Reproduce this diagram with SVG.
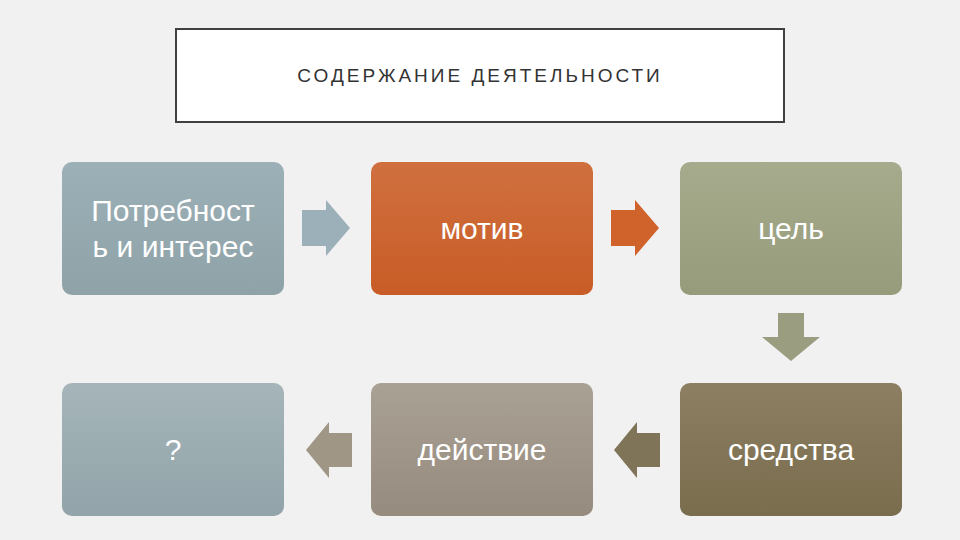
<svg xmlns="http://www.w3.org/2000/svg" width="960" height="540" viewBox="0 0 960 540">
<style>
.t{font-family:"Liberation Sans",Arial,sans-serif;fill:#fff;font-size:30px;text-anchor:middle}
</style>
<defs>
<linearGradient id="g1" x1="0" y1="0" x2="0" y2="1"><stop offset="0" stop-color="#9cb0b7"/><stop offset="1" stop-color="#8ea2a8"/></linearGradient>
<linearGradient id="g2" x1="0" y1="0" x2="0" y2="1"><stop offset="0" stop-color="#d0703f"/><stop offset="1" stop-color="#c85c26"/></linearGradient>
<linearGradient id="g3" x1="0" y1="0" x2="0" y2="1"><stop offset="0" stop-color="#a6ab8d"/><stop offset="1" stop-color="#969b7b"/></linearGradient>
<linearGradient id="g4" x1="0" y1="0" x2="0" y2="1"><stop offset="0" stop-color="#a5b5ba"/><stop offset="1" stop-color="#92a4a9"/></linearGradient>
<linearGradient id="g5" x1="0" y1="0" x2="0" y2="1"><stop offset="0" stop-color="#aaa195"/><stop offset="1" stop-color="#958b7e"/></linearGradient>
<linearGradient id="g6" x1="0" y1="0" x2="0" y2="1"><stop offset="0" stop-color="#8c7f62"/><stop offset="1" stop-color="#7a6d4e"/></linearGradient>
</defs>
<rect width="960" height="540" fill="#f2f1f1"/>
<g id="title">
<rect x="176" y="29" width="608" height="93" fill="#fff" stroke="#404040" stroke-width="2"/>
<text x="480" y="82" font-family="'Liberation Sans',Arial,sans-serif" font-size="19" letter-spacing="3" fill="#333" text-anchor="middle">СОДЕРЖАНИЕ ДЕЯТЕЛЬНОСТИ</text>
</g>
<g id="n1"><rect x="62" y="162" width="222" height="133" rx="10" fill="url(#g1)"/><text class="t" x="173" y="221">Потребност</text><text class="t" x="173" y="257">ь и интерес</text></g>
<g id="n2"><rect x="371" y="162" width="222" height="133" rx="10" fill="url(#g2)"/><text class="t" x="482" y="239">мотив</text></g>
<g id="n3"><rect x="680" y="162" width="222" height="133" rx="10" fill="url(#g3)"/><text class="t" x="791" y="239">цель</text></g>
<g id="n4"><rect x="62" y="383" width="222" height="133" rx="10" fill="url(#g4)"/><text class="t" x="173" y="460" font-size="26">?</text></g>
<g id="n5"><rect x="371" y="383" width="222" height="133" rx="10" fill="url(#g5)"/><text class="t" x="482" y="460">действие</text></g>
<g id="n6"><rect x="680" y="383" width="222" height="133" rx="10" fill="url(#g6)"/><text class="t" x="791" y="460">средства</text></g>
<g id="connectors">
<polygon points="302,210 326,210 326,200 350,228 326,256 326,246 302,246" fill="#9bb0b8"/>
<polygon points="611,210 635,210 635,200 659,228 635,256 635,246 611,246" fill="#d0622c"/>
<polygon points="778,313 804,313 804,337 820,337 791,361 762,337 778,337" fill="#9a9d80"/>
<polygon points="660,433 637,433 637,422 614,450 637,478 637,467 660,467" fill="#7f7458"/>
<polygon points="352,433 329,433 329,422 306,450 329,478 329,467 352,467" fill="#a09686"/>
</g>
</svg>
